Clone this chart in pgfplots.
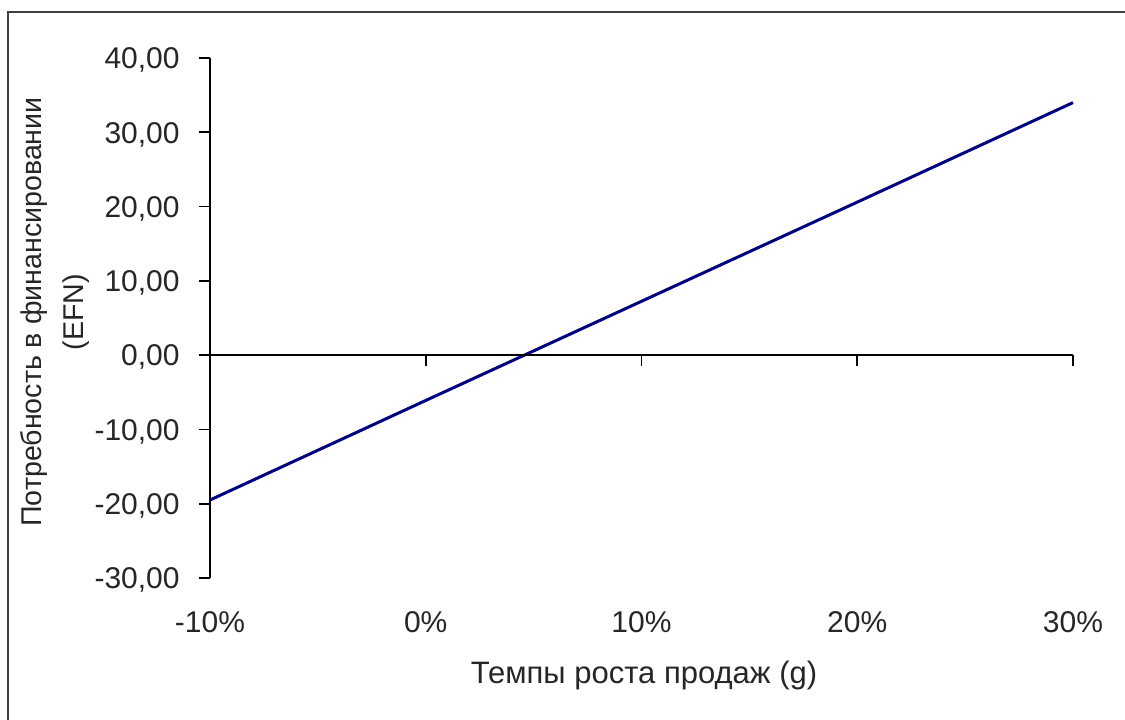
\documentclass[border=0pt]{standalone}
\usepackage{fontspec}
\setmainfont{Liberation Sans}
\usepackage{pgfplots}
\pgfplotsset{compat=1.18}
\definecolor{navyline}{HTML}{000080}
\definecolor{framegray}{HTML}{404040}
\begin{document}
\fontsize{15}{18}\selectfont
\begin{tikzpicture}
\useasboundingbox (0,0) rectangle (562.5pt,359.5pt);
\begin{scope}
\clip (0,0) rectangle (562.5pt,359.5pt);
\draw[line width=1pt, color=framegray] (3.75pt,353.5pt) rectangle (580pt,-20pt);
\end{scope}
\begin{axis}[
  at={(105pt,70.5pt)}, anchor=south west,
  scale only axis, width=431.5pt, height=260pt,
  xmin=-10, xmax=30, ymin=-30, ymax=40,
  axis lines=left,
  axis line style={-, line width=0.9pt, black},
  x axis line style={draw=none},
  xtick={-10,0,10,20,30},
  xticklabels={-10\%,0\%,10\%,20\%,30\%},
  ytick={-30,-20,-10,0,10,20,30,40},
  yticklabels={{-30,00},{-20,00},{-10,00},{0,00},{10,00},{20,00},{30,00},{40,00}},
  tick align=outside,
  major tick length=5.5pt,
  xtick style={draw=none},
  ytick style={line width=0.9pt, black},
  yticklabel style={anchor=base east, inner sep=0pt, xshift=-9.5pt, yshift=-5.37pt, text=black!85},
  xticklabel style={anchor=base, inner sep=0pt, yshift=-21.5pt, text=black!85},
  clip=false,
]
\addplot[navyline, line width=1.5pt] coordinates {
  (-10,-19.5) (0,-6.1) (10,7.25) (20,20.6) (30,34.0)
};
\draw[line width=0.9pt, black] (axis cs:-10,0) -- (axis cs:30,0);
\pgfplotsinvokeforeach{0,10,20,30}{
  \draw[line width=0.9pt, black] (axis cs:#1,0) -- ++(0pt,-5.5pt);
}
\end{axis}
\node[rotate=90, align=center, inner sep=0pt, font=\fontsize{14.3}{21}\selectfont, text=black!85] at (27.4pt,203.5pt) {Потребность в финансировании\\(EFN)};
\node[anchor=base, inner sep=0pt, text=black!85, font=\fontsize{15.5}{18}\selectfont] at (322pt,18pt) {Темпы роста продаж (g)};
\end{tikzpicture}
\end{document}
